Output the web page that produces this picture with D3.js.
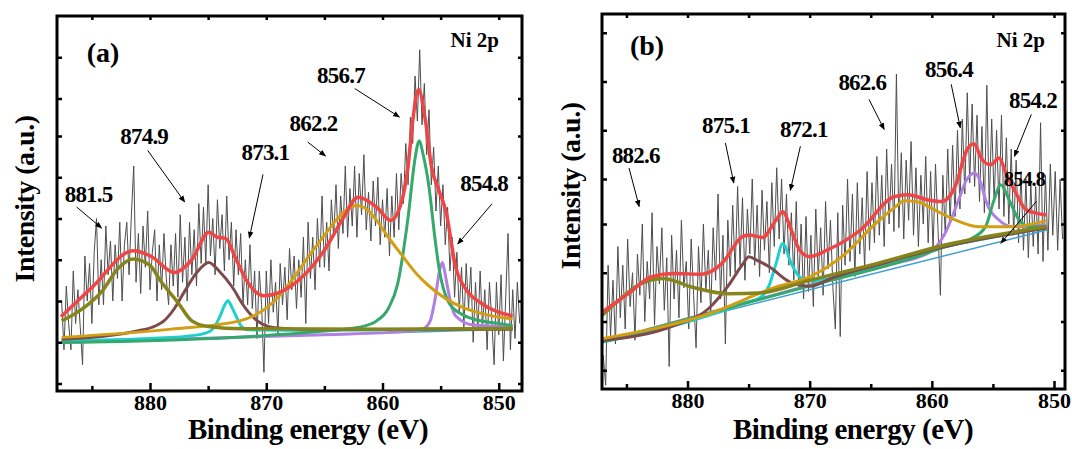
<!DOCTYPE html>
<html>
<head>
<meta charset="utf-8">
<script src="https://cdn.jsdelivr.net/npm/d3@7"></script>
<style>
  body { margin: 0; background: #fff; }
  text { font-family: "Liberation Serif", "Times New Roman", serif; font-weight: bold; fill: #000; }
</style>
</head>
<body>
<div id="chart"></div>
<script>
// ---- data (intensity in % of plot height) ----
let xMajor = [880, 870, 860, 850]
let xMinor = [885, 875, 865, 855]

// panel (a) raw spectrum, 887.6 eV down in 0.2 eV steps
let rawStartA = 887.6, rawStepA = 0.2
let rawA = [24,11,28,18,11,32,18,27,17,7, 36,24,34,18,37,46,23,35,23,44,
  31,40,24,39,30,45,24,39,45,31, 47,60,29,42,26,44,33,48,27,37,
  43,24,39,27,42,30,23,39,28,42, 25,47,29,41,24,45,31,43,28,50,
  34,49,34,55,36,46,31,51,38,47, 32,52,35,45,28,43,31,42,23,35,
  23,39,22,32,14,32,23,5,32,18, 35,21,29,15,34,23,33,19,38,27,
  36,22,35,25,41,18,45,30,41,27, 46,33,52,33,45,32,51,41,55,38,
  52,42,60,41,54,44,60,41,58,47, 63,43,53,40,56,44,57,39,51,41,
  54,36,52,41,58,43,58,50,66,55, 73,66,84,72,91,71,82,63,75,55,
  65,48,60,44,55,39,49,32,41,25, 37,21,33,17,34,22,33,13,29,16,
  32,17,27,11,29,19,7,29,15,31, 8,25,42,11,27,14,29,18]

let baseA = [[887.6,12.9],[848.8,16.5]]
let purpleA = [[887.6,12.9],[865,15],[858,15.9],[856.5,16.6],[855.9,18.7],[855.45,25],[855.1,32],[854.85,34.3],[854.6,31],[854.4,27.6],[854.0,22],[853.7,20],[852.2,17.6],[848.8,17.1]]
let cyanA = [[887.6,13.4],[880,14],[876,14.9],[874.8,16],[874.2,18.5],[873.9,20.5],[873.6,22.8],[873.3,24.1],[873.0,22.6],[872.6,20],[872.2,17.5],[871.6,16.3],[868,16.2],[860,16.3],[848.8,16.6]]
let greenA = [[887.6,12.9],[870,14.8],[865,16],[862,17],[860.5,18.7],[859.5,22],[858.7,28.5],[857.8,46.3],[857.2,62],[856.85,66.7],[856.5,63],[856.0,54.4],[855.5,41],[855.15,33],[854.3,23.6],[853.2,20.5],[852.2,19.2],[850,18],[848.8,17.4]]
let brownA = [[887.6,13.8],[884,14.6],[881.1,16],[879.5,17.4],[878.8,18.7],[877.9,22],[877.0,26.7],[876,31.5],[874.94,34.3],[874,31.8],[872.9,27.6],[872,23],[871.1,19.6],[869.3,16.9],[866,16.4],[848.8,16.5]]
let goldA = [[887.6,14.3],[878.2,16.5],[872.3,18.7],[869.3,24],[867.8,29.5],[866.4,35.7],[865,41.5],[864.0,45.5],[863,48.5],[862.25,49.5],[861.5,48.8],[860.5,45.5],[859.5,41],[858.4,36.5],[857,31],[856.0,28],[854.5,24.5],[853.1,22.3],[851,20.3],[848.8,19.2]]
let oliveA = [[887.6,18.7],[886,21.5],[884.1,26.7],[882.8,32.5],[881.44,35.2],[880,33.5],[879.1,29.4],[877.6,23.6],[876.4,18.7],[875,17.2],[872,16.6],[860,16.5],[848.8,16.7]]
let redA = [[887.65,19.8],[884.99,27.6],[881.44,37.4],[879.96,36],[877.9,31.6],[876.4,35],[874.94,42.3],[874.2,41],[873.5,40.7],[872.58,35],[871.7,29.5],[870.2,25.4],[867.85,28],[864.9,38],[863.4,46],[862.1,51.7],[860.5,49],[859.3,45.5],[858.4,50],[857.8,60],[857.4,72],[856.9,80.4],[856.3,72],[855.8,60],[855.15,53.5],[854.55,48],[853.7,33],[852.8,27],[851.6,23.6],[848.8,20]]
let peakLabelsA = ['881.5','874.9','873.1','862.2','856.7','854.8']
let yTicksA = [2,13,24,35,46,57,68,78,89]

// panel (b) raw spectrum, 886.9 eV down in 0.2 eV steps
let rawStartB = 886.9, rawStepB = 0.2
let rawB = [9,1,33,14,29,12,38,19,33,16, 40,22,31,13,36,25,44,18,34,24,
  47,17,38,28,43,21,35,6,41,24, 37,19,45,27,34,16,40,25,11,38,
  23,44,26,37,20,43,29,52,24,41, 12,45,30,49,31,54,33,51,29,48,
  36,56,33,49,30,53,37,50,31,55, 38,59,40,56,36,52,33,47,29,50,
  27,44,24,46,26,41,22,48,30,43, 25,50,32,45,27,16,47,14,49,33,
  56,34,52,30,55,36,51,32,58,37, 55,39,62,41,57,38,64,44,60,42,
  84,43,63,40,61,45,66,41,59,38, 57,44,62,39,58,37,60,43,25,57,
  41,64,44,65,46,69,48,72,52,79, 55,76,54,73,50,70,47,81,49,72,
  50,69,48,73,46,67,44,64,41,61, 39,58,37,56,35,55,38,54,36,71,
  34,57,37,60,41,58,37,56,40]

let baseB = [[887,12.5],[850.6,42.4]]
let purpleB = [[887,12.5],[864.45,32.6],[860.3,36.2],[858.92,41.5],[857.81,50.4],[857.2,55.5],[856.49,57.6],[856,55],[855.6,50.4],[854.49,45],[853.39,43.3],[850.62,43.8]]
let cyanB = [[887,12.5],[878,19.9],[875.52,22.8],[874,24.5],[873.31,27.7],[872.75,33.5],[872.2,38.8],[871.51,33.5],[870.82,29.9],[869.99,28.8],[868,29.7],[864.45,33],[858.92,37.9],[850.6,42.9]]
let greenB = [[887,12.5],[870,27.5],[862,34.5],[858.92,37.9],[856.71,40.2],[855.6,43.3],[854.91,50.4],[854.36,54.5],[853.67,50.4],[852.84,45],[852,43.3],[850.62,43.3]]
let brownB = [[887,12.9],[881.05,17],[878.29,21.4],[876.63,27.7],[875.5,33.2],[874.97,35.3],[874.3,34.3],[873.31,32.6],[871.65,28.6],[870,27.4],[868,29.8],[864.45,33.1],[858.92,38],[850.6,42.9]]
let goldB = [[887,13.4],[878.29,20],[872.75,27.2],[869.99,29.9],[867.22,35.7],[864.45,44.6],[863,48.5],[862.24,50.2],[861,49.8],[860.3,48.7],[858.37,45.5],[856.15,43.3],[853.39,43.3],[850.62,44.9]]
let oliveB = [[887,19.6],[885.5,24],[884,27.8],[882.0,29.5],[879.67,27.2],[876.63,25.4],[874.14,25.6],[870,29],[864.45,33.5],[858.92,38.4],[850.6,43.3]]
let redB = [[887,20.5],[884.65,25.9],[882.99,29.9],[881.05,30.8],[878.84,30.6],[877.18,33.5],[875.52,40.6],[874.97,41.1],[873.86,40.4],[872.75,45.1],[872.2,47.3],[871.51,42.4],[870.82,37],[869.99,35.3],[868.6,37],[865.84,42.4],[863.07,51.3],[861.96,51.8],[860.3,50.4],[859.2,50],[858.09,54],[857.12,63.8],[856.57,65.4],[855.88,61.2],[855.19,59.8],[854.49,61.6],[853.94,57.6],[853.11,52.2],[852.28,47.8],[851.45,46.9],[850.62,46.4]]
let peakLabelsB = ['882.6','875.1','872.1','862.6','856.4','854.2','854.8']
let yTicksB = [5,18,31,44,56,69,82,95]

let colors = {
  base: '#3f9fd0', purple: '#b07fe3', cyan: '#1fcfcf', green: '#35a96b',
  brown: '#7d4b4b', gold: '#d39f12', olive: '#85851c', red: '#f04545'
}

// ---- layout ----
let W = 1072, H = 449
let svg = d3.select('#chart').append('svg').attr('width', W).attr('height', H)

svg.append('defs').append('marker')
  .attr('id', 'arrow').attr('viewBox', '0 0 10 10')
  .attr('refX', 9).attr('refY', 5)
  .attr('markerWidth', 7).attr('markerHeight', 7)
  .attr('orient', 'auto')
  .append('path').attr('d', 'M0,1 L10,5 L0,9 z').attr('fill', '#000')

let panels = [
  {
    left: 57, right: 522, top: 16, bottom: 391, xDomain: [888, 848],
    tag: '(a)', tagPos: [103, 62], niPos: [499, 47], yTitle: [34, 199], xTitle: [308, 439],
    rawStart: rawStartA, rawStep: rawStepA, raw: rawA, yTicks: yTicksA,
    curves: [['base', baseA, 1.5], ['purple', purpleA, 3], ['cyan', cyanA, 3], ['green', greenA, 3],
      ['brown', brownA, 3], ['gold', goldA, 3], ['olive', oliveA, 3.5], ['red', redA, 3.5]],
    labels: peakLabelsA,
    notes: [
      { at: [88.6, 202], from: [76.6, 207], to: [101.6, 228] },
      { at: [144.2, 144], from: [147.7, 150.4], to: [184.7, 202] },
      { at: [265.4, 160], from: [263, 174.4], to: [249.3, 238] },
      { at: [313.5, 131], from: [307.7, 142], to: [325.5, 156] },
      { at: [341, 83], from: [354.7, 88.5], to: [399.4, 117] },
      { at: [484.2, 191], from: [492, 203.8], to: [457.7, 244] }
    ]
  },
  {
    left: 602, right: 1065, top: 14, bottom: 389, xDomain: [887, 849.1],
    tag: '(b)', tagPos: [647, 55], niPos: [1045, 47], yTitle: [580, 186], xTitle: [853, 439],
    rawStart: rawStartB, rawStep: rawStepB, raw: rawB, yTicks: yTicksB,
    curves: [['base', baseB, 1.5], ['purple', purpleB, 3], ['cyan', cyanB, 3], ['green', greenB, 3],
      ['brown', brownB, 3], ['gold', goldB, 3], ['olive', oliveB, 3.5], ['red', redB, 3.5]],
    labels: peakLabelsB,
    notes: [
      { at: [635.8, 163], from: [629, 168], to: [639.2, 206.5] },
      { at: [726, 132.5], from: [725.4, 142.9], to: [733.8, 183] },
      { at: [803.8, 137], from: [800.4, 146.2], to: [790.3, 190.4] },
      { at: [862.3, 89.6], from: [869, 99.4], to: [884.2, 129.5] },
      { at: [949, 77], from: [951.2, 84.3], to: [960.3, 127.8] },
      { at: [1033, 108], from: [1031.3, 114.4], to: [1014.4, 156.3] },
      { at: [1024.5, 186], from: [1036.3, 201.5], to: [1000.8, 243.3], small: true }
    ]
  }
]

panels.forEach(p => {
  let x = d3.scaleLinear().domain(p.xDomain).range([p.left, p.right])
  let y = d3.scaleLinear().domain([0, 100]).range([p.bottom, p.top])
  let g = svg.append('g')

  // raw spectrum
  let raw = p.raw.map((v, i) => [p.rawStart - i * p.rawStep, v])
  g.append('path')
    .datum(raw)
    .attr('fill', 'none').attr('stroke', '#4d4d4d').attr('stroke-width', 1)
    .attr('d', d3.line().x(d => x(d[0])).y(d => y(d[1])))

  // fitted components
  let line = d3.line().x(d => x(d[0])).y(d => y(d[1])).curve(d3.curveMonotoneX)
  p.curves.forEach(c => {
    g.append('path')
      .datum(c[1].slice().sort((a, b) => b[0] - a[0]))
      .attr('fill', 'none')
      .attr('stroke', colors[c[0]])
      .attr('stroke-width', c[2])
      .attr('stroke-linejoin', 'round')
      .attr('d', line)
  })

  // axes with inward ticks
  let axB = g.append('g').attr('transform', 'translate(0,' + p.bottom + ')')
    .call(d3.axisBottom(x).tickValues(xMajor).tickSize(-8).tickPadding(3).tickFormat(d3.format('d')))
  axB.selectAll('text').style('font-size', '22px').style('font-family', '"Liberation Serif", serif').style('font-weight', 'bold')
  g.append('g').attr('transform', 'translate(0,' + p.bottom + ')')
    .call(d3.axisBottom(x).tickValues(xMinor).tickSize(-5).tickFormat(''))
  g.append('g').attr('transform', 'translate(0,' + p.top + ')')
    .call(d3.axisTop(x).tickValues(xMajor.concat(xMinor)).tickSize(-4).tickFormat(''))
  g.append('g').attr('transform', 'translate(' + p.left + ',0)')
    .call(d3.axisLeft(y).tickValues(p.yTicks).tickSize(-5).tickFormat(''))
  g.append('g').attr('transform', 'translate(' + p.right + ',0)')
    .call(d3.axisRight(y).tickValues(p.yTicks).tickSize(-4).tickFormat(''))
  g.selectAll('.domain').remove()
  g.selectAll('.tick line').attr('stroke', '#000').attr('stroke-width', 2.5)

  g.append('rect')
    .attr('x', p.left).attr('y', p.top)
    .attr('width', p.right - p.left).attr('height', p.bottom - p.top)
    .attr('fill', 'none').attr('stroke', '#000').attr('stroke-width', 3)

  // peak annotations
  p.notes.forEach((n, i) => {
    g.append('line')
      .attr('x1', n.from[0]).attr('y1', n.from[1])
      .attr('x2', n.to[0]).attr('y2', n.to[1])
      .attr('stroke', '#000').attr('stroke-width', 1)
      .attr('marker-end', 'url(#arrow)')
    g.append('text')
      .attr('x', n.at[0]).attr('y', n.at[1])
      .attr('text-anchor', 'middle')
      .style('font-size', n.small ? '20px' : '23px')
      .style('letter-spacing', '-0.8px')
      .text(p.labels[i])
  })

  g.append('text').attr('x', p.tagPos[0]).attr('y', p.tagPos[1])
    .attr('text-anchor', 'middle').style('font-size', '28px').text(p.tag)
  g.append('text').attr('x', p.niPos[0]).attr('y', p.niPos[1])
    .attr('text-anchor', 'end').style('font-size', '21px').text('Ni 2p')

  g.append('text')
    .attr('transform', 'translate(' + p.yTitle[0] + ',' + p.yTitle[1] + ') rotate(-90)')
    .attr('text-anchor', 'middle').style('font-size', '28px').style('letter-spacing', '-0.5px')
    .text('Intensity (a.u.)')
  g.append('text').attr('x', p.xTitle[0]).attr('y', p.xTitle[1])
    .attr('text-anchor', 'middle').style('font-size', '29px').style('letter-spacing', '-0.5px')
    .text('Binding energy (eV)')
})
</script>
</body>
</html>
